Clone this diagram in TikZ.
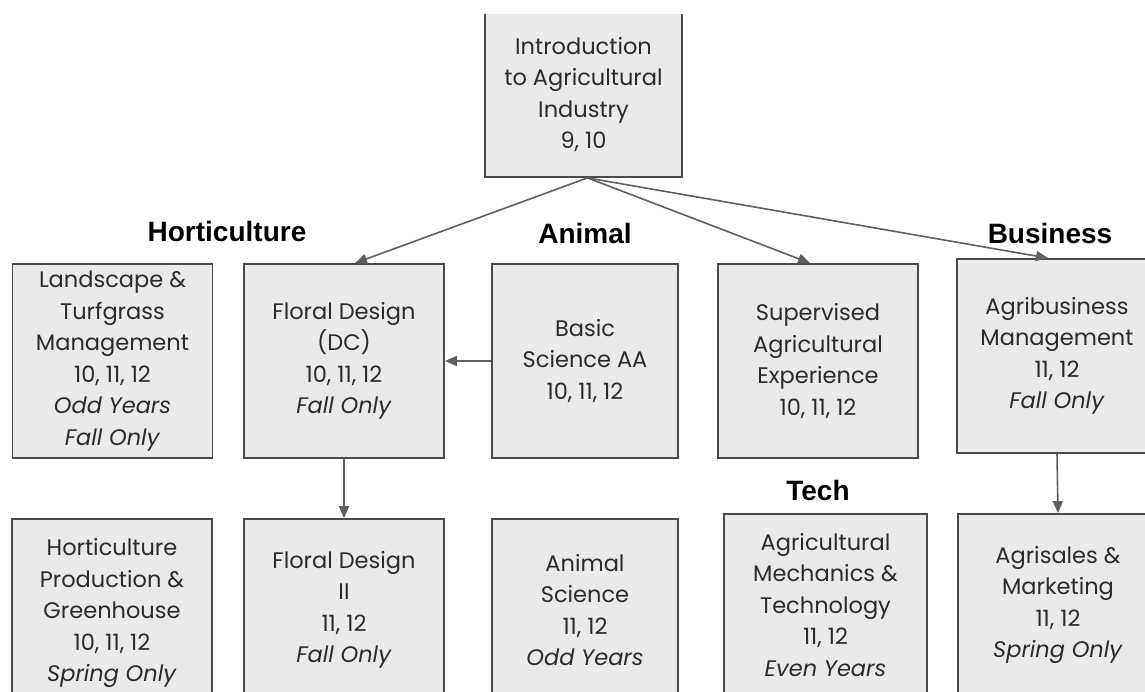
\documentclass[tikz,border=0pt]{standalone}
\usepackage{fontspec}
\setmainfont{Poppins}
\newfontfamily\trackfont{Liberation Sans}
\usetikzlibrary{arrows.meta}
\definecolor{boxfill}{HTML}{EAEAEA}
\definecolor{boxline}{HTML}{4A4A4A}
\definecolor{inkgray}{HTML}{2B2B2B}
\definecolor{arrowgray}{HTML}{5F5F5F}
\tikzset{
    course/.style={draw=boxline, fill=boxfill, line width=1.8pt, text=inkgray, align=center, inner sep=0pt, minimum width=200pt, font=\fontsize{22.5}{31.5}\selectfont}, % 课程方框的样式
    track/.style={font=\trackfont\bfseries\fontsize{28}{30}\selectfont}, % 方向标题的样式
    link/.style={draw=arrowgray, line width=1.6pt, -{Triangle[length=12pt, width=10pt]}} % 箭头的样式
}

\begin{document}
\begin{tikzpicture}[x=1pt, y=-1pt]
    \useasboundingbox (0,0) rectangle (1145,692);
    \clip (0,14.5) rectangle (1145,692);

    \node[course, minimum width=197pt, minimum height=165pt] (intro) at (583.5,94.5) {Introduction\\ to Agricultural\\ Industry\\ 9, 10};

    \node[track] (horti) at (227,231) {Horticulture};
    \node[track] (anim) at (585,233) {Animal};
    \node[track] (busi) at (1050,233) {Business};
    \node[track] (tech) at (818,490) {Tech};

    \node[course, minimum height=194pt] (land) at (112.5,361) {Landscape \&\\ Turfgrass\\ Management\\ 10, 11, 12\\ \textit{Odd Years}\\ \textit{Fall Only}};
    \node[course, minimum height=194pt] (floral) at (344,361) {Floral Design\\ (DC)\\ 10, 11, 12\\ \textit{Fall Only}};
    \node[course, minimum width=186pt, minimum height=194pt] (basic) at (585,361) {Basic\\ Science AA\\ 10, 11, 12};
    \node[course, minimum height=194pt] (sae) at (818,361) {Supervised\\ Agricultural\\ Experience\\ 10, 11, 12};
    \node[course, minimum height=194pt] (agbiz) at (1057,356) {Agribusiness\\ Management\\ 11, 12\\ \textit{Fall Only}};

    \node[course, minimum height=188pt] (hort) at (112,613) {Horticulture\\ Production \&\\ Greenhouse\\ 10, 11, 12\\ \textit{Spring Only}};
    \node[course, minimum height=182pt] (floral2) at (344,610) {Floral Design\\ II\\ 11, 12\\ \textit{Fall Only}};
    \node[course, minimum width=186pt, minimum height=182pt] (animsci) at (585,610) {Animal\\ Science\\ 11, 12\\ \textit{Odd Years}};
    \node[course, minimum width=203pt, minimum height=182pt] (mech) at (825.5,605) {Agricultural\\ Mechanics \&\\ Technology\\ 11, 12\\ \textit{Even Years}};
    \node[course, minimum height=182pt] (agsales) at (1058,605) {Agrisales \&\\ Marketing\\ 11, 12\\ \textit{Spring Only}};

    \draw[link] ([xshift=4pt]intro.south) -- ([xshift=11pt]floral.north);
    \draw[link] ([xshift=4pt]intro.south) -- ([xshift=-8pt]sae.north);
    \draw[link] ([xshift=4pt]intro.south) -- ([xshift=-9pt]agbiz.north);
    \draw[link] (basic.west) -- (floral.east);
    \draw[link] (floral.south) -- (floral2.north);
    \draw[link] (agbiz.south) -- (agsales.north);
\end{tikzpicture}
\end{document}
